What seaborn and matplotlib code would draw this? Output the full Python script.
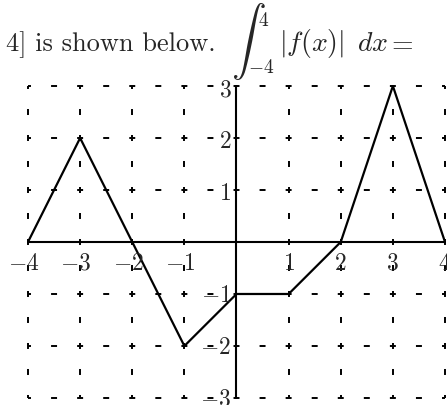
import matplotlib
matplotlib.use("Agg")
import matplotlib.pyplot as plt
import seaborn as sns

# piecewise linear f on [-4, 4]
x_pts = [-4, -3, -2, -1, 0, 1, 2, 3, 4]
f_vals = [0, 2, 0, -2, -1, -1, 0, 3, 0]
x_ticks = [-4, -3, -2, -1, 1, 2, 3, 4]
y_ticks = [-3, -2, -1, 1, 2, 3]

sns.set_style("white")
plt.rcParams["mathtext.fontset"] = "cm"
plt.rcParams["lines.scale_dashes"] = False

W, H = 447, 406
fig = plt.figure(figsize=(W / 100, H / 100), dpi=100)
ax = fig.add_axes([28 / W, 0, 417 / W, (H - 83) / H])
ax.set_xlim(-4, 4)
ax.set_ylim(-3.135, 3.077)
ax.axis("off")

# dashed grid, dashes centred on integers and half integers
ux = 417 / 8 * 0.72
uy = (H - 83) / 6.212 * 0.72
on = 4.3
for yv in y_ticks:
    ax.plot([-4, 4], [yv, yv], color="black", lw=1.4,
            linestyle=(on / 2, (on, ux / 2 - on)), clip_on=False)
for xv in x_ticks:
    ax.plot([xv, xv], [3, -3], color="black", lw=1.4,
            linestyle=(on / 2, (on, uy / 2 - on)), clip_on=False)

# axes
ax.plot([-4, 4], [0, 0], color="black", lw=1.5, clip_on=False)
ax.plot([0, 0], [-3, 3], color="black", lw=1.5, clip_on=False)

sns.lineplot(x=x_pts, y=f_vals, sort=False, estimator=None,
             color="black", lw=1.6, ax=ax)

for xv in x_ticks:
    ax.text(xv - (0.08 if xv < 0 else 0), -0.38, f"${xv}$",
            ha="center", va="center", fontsize=17, clip_on=False)
for yv in y_ticks:
    ax.text(-0.1, yv - (0.04 if yv > 0 else 0), f"${yv}$",
            ha="right", va="center", fontsize=17)

# heading text
def px(x, y):
    return x / W, 1 - y / H

fig.text(*px(6, 51), "4] is shown below.", family="cmr10", fontsize=19, va="baseline")
fig.text(*px(231, 42), r"$\int$", fontsize=25, va="center")
fig.text(*px(258, 26), r"$4$", fontsize=14, va="baseline")
fig.text(*px(248, 73), r"$-4$", fontsize=14, va="baseline")
fig.text(*px(279, 51), r"$|f(x)|$", fontsize=20, va="baseline")
fig.text(*px(357, 51), r"$dx$", fontsize=20, va="baseline")
fig.text(*px(387, 51), r"$=$", fontsize=20, va="baseline")

fig.savefig("out.png", dpi=100)
